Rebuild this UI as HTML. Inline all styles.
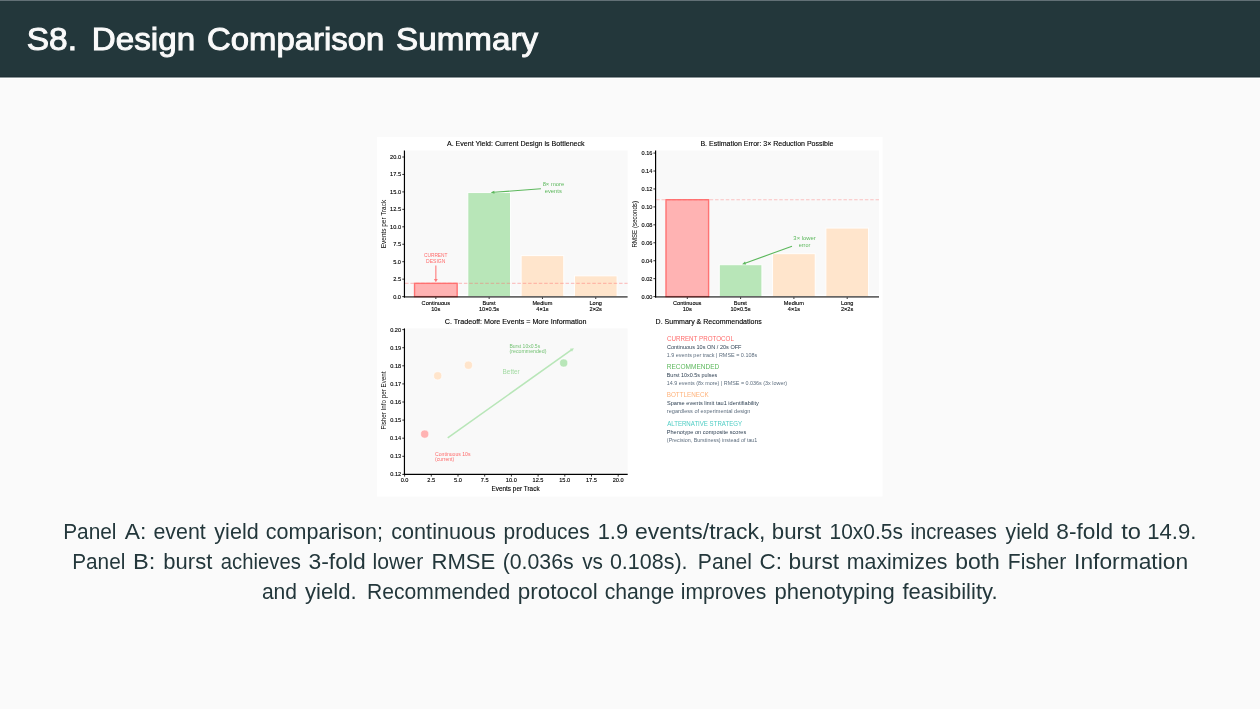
<!DOCTYPE html>
<html><head><meta charset="utf-8"><title>S8. Design Comparison Summary</title>
<style>
html,body{margin:0;padding:0;}
body{width:1260px;height:709px;overflow:hidden;background:#FAFAFA;position:relative;}
.hdr{position:absolute;left:0;top:0;width:1260px;height:77px;background:#23373B;}
.hdr .tl{position:absolute;left:0;top:0;width:1260px;height:1px;background:#627076;}
.hdr .b1{position:absolute;left:0;top:76px;width:1260px;height:1px;background:#1F3036;}
.hl{position:absolute;left:0;top:77px;width:1260px;height:1px;background:#8C9799;}
.hw{position:absolute;left:0;top:78px;width:1260px;height:1px;background:#FFFFFF;}
svg{position:absolute;left:0;top:0;will-change:transform;}
</style></head>
<body>
<div class="hdr"><div class="tl"></div><div class="b1"></div></div>
<div class="hl"></div><div class="hw"></div>
<svg width="1260" height="709" viewBox="0 0 1260 709" font-family='"Liberation Sans", "DejaVu Sans", sans-serif'>
<g id="title">
<text x="26.79" y="50.20" font-size="32.0" fill="#FAFAFA" textLength="50.25" lengthAdjust="spacingAndGlyphs" stroke="#FAFAFA" stroke-width="1.0">S8.</text>
<text x="91.86" y="50.20" font-size="32.0" fill="#FAFAFA" textLength="103.22" lengthAdjust="spacingAndGlyphs" stroke="#FAFAFA" stroke-width="1.0">Design</text>
<text x="207.06" y="50.20" font-size="32.0" fill="#FAFAFA" textLength="177.24" lengthAdjust="spacingAndGlyphs" stroke="#FAFAFA" stroke-width="1.0">Comparison</text>
<text x="396.11" y="50.20" font-size="32.0" fill="#FAFAFA" textLength="141.90" lengthAdjust="spacingAndGlyphs" stroke="#FAFAFA" stroke-width="1.0">Summary</text>
</g>
<g id="figure">
<rect x="377.00" y="137.00" width="505.50" height="359.50" fill="#FFFFFF"/>
<rect x="406.05" y="150.50" width="221.55" height="144.20" fill="#F9F9F9"/>
<rect x="414.55" y="283.34" width="42.60" height="13.26" fill="#FFB3B3" stroke="#FF7373" stroke-width="1.4"/>
<rect x="467.85" y="192.60" width="42.60" height="104.00" fill="#B8E6B8" stroke="#FFFFFF" stroke-width="0.9"/>
<rect x="521.15" y="255.63" width="42.60" height="40.97" fill="#FFE5CC" stroke="#FFFFFF" stroke-width="0.9"/>
<rect x="574.45" y="275.87" width="42.60" height="20.73" fill="#FFE5CC" stroke="#FFFFFF" stroke-width="0.9"/>
<line x1="405.05" y1="283.34" x2="627.60" y2="283.34" stroke="rgba(255,107,107,0.38)" stroke-width="1.1" stroke-dasharray="3.5,1.85"/>
<line x1="404.45" y1="150.50" x2="404.45" y2="297.60" stroke="#000" stroke-width="1.2"/>
<line x1="403.85" y1="296.80" x2="627.60" y2="296.80" stroke="rgba(0,0,0,0.6)" stroke-width="1.7"/>
<line x1="402.25" y1="296.60" x2="404.45" y2="296.60" stroke="#000" stroke-width="0.8"/>
<text x="393.20" y="298.50" font-size="5.4" fill="#000" textLength="7.81" lengthAdjust="spacingAndGlyphs" stroke="#000" stroke-width="0.12">0.0</text>
<line x1="402.25" y1="279.15" x2="404.45" y2="279.15" stroke="#000" stroke-width="0.8"/>
<text x="393.22" y="281.05" font-size="5.4" fill="#000" textLength="7.81" lengthAdjust="spacingAndGlyphs" stroke="#000" stroke-width="0.12">2.5</text>
<line x1="402.25" y1="261.70" x2="404.45" y2="261.70" stroke="#000" stroke-width="0.8"/>
<text x="393.20" y="263.60" font-size="5.4" fill="#000" textLength="7.81" lengthAdjust="spacingAndGlyphs" stroke="#000" stroke-width="0.12">5.0</text>
<line x1="402.25" y1="244.25" x2="404.45" y2="244.25" stroke="#000" stroke-width="0.8"/>
<text x="393.22" y="246.15" font-size="5.4" fill="#000" textLength="7.81" lengthAdjust="spacingAndGlyphs" stroke="#000" stroke-width="0.12">7.5</text>
<line x1="402.25" y1="226.80" x2="404.45" y2="226.80" stroke="#000" stroke-width="0.8"/>
<text x="390.09" y="228.70" font-size="5.4" fill="#000" textLength="10.93" lengthAdjust="spacingAndGlyphs" stroke="#000" stroke-width="0.12">10.0</text>
<line x1="402.25" y1="209.35" x2="404.45" y2="209.35" stroke="#000" stroke-width="0.8"/>
<text x="390.10" y="211.25" font-size="5.4" fill="#000" textLength="10.93" lengthAdjust="spacingAndGlyphs" stroke="#000" stroke-width="0.12">12.5</text>
<line x1="402.25" y1="191.90" x2="404.45" y2="191.90" stroke="#000" stroke-width="0.8"/>
<text x="390.09" y="193.80" font-size="5.4" fill="#000" textLength="10.93" lengthAdjust="spacingAndGlyphs" stroke="#000" stroke-width="0.12">15.0</text>
<line x1="402.25" y1="174.45" x2="404.45" y2="174.45" stroke="#000" stroke-width="0.8"/>
<text x="390.10" y="176.35" font-size="5.4" fill="#000" textLength="10.93" lengthAdjust="spacingAndGlyphs" stroke="#000" stroke-width="0.12">17.5</text>
<line x1="402.25" y1="157.00" x2="404.45" y2="157.00" stroke="#000" stroke-width="0.8"/>
<text x="390.09" y="158.90" font-size="5.4" fill="#000" textLength="10.93" lengthAdjust="spacingAndGlyphs" stroke="#000" stroke-width="0.12">20.0</text>
<line x1="435.85" y1="297.40" x2="435.85" y2="299.00" stroke="#000" stroke-width="0.8"/>
<text x="421.61" y="305.10" font-size="5.5" fill="#000" textLength="28.38" lengthAdjust="spacingAndGlyphs" stroke="#000" stroke-width="0.12">Continuous</text>
<text x="431.21" y="311.30" font-size="5.5" fill="#000" textLength="9.05" lengthAdjust="spacingAndGlyphs" stroke="#000" stroke-width="0.12">10s</text>
<line x1="489.15" y1="297.40" x2="489.15" y2="299.00" stroke="#000" stroke-width="0.8"/>
<text x="482.40" y="305.10" font-size="5.5" fill="#000" textLength="13.09" lengthAdjust="spacingAndGlyphs" stroke="#000" stroke-width="0.12">Burst</text>
<text x="478.97" y="311.30" font-size="5.5" fill="#000" textLength="20.12" lengthAdjust="spacingAndGlyphs" stroke="#000" stroke-width="0.12">10×0.5s</text>
<line x1="542.45" y1="297.40" x2="542.45" y2="299.00" stroke="#000" stroke-width="0.8"/>
<text x="532.43" y="305.10" font-size="5.5" fill="#000" textLength="19.95" lengthAdjust="spacingAndGlyphs" stroke="#000" stroke-width="0.12">Medium</text>
<text x="536.32" y="311.30" font-size="5.5" fill="#000" textLength="12.32" lengthAdjust="spacingAndGlyphs" stroke="#000" stroke-width="0.12">4×1s</text>
<line x1="595.75" y1="297.40" x2="595.75" y2="299.00" stroke="#000" stroke-width="0.8"/>
<text x="589.46" y="305.10" font-size="5.5" fill="#000" textLength="12.48" lengthAdjust="spacingAndGlyphs" stroke="#000" stroke-width="0.12">Long</text>
<text x="589.54" y="311.30" font-size="5.5" fill="#000" textLength="12.32" lengthAdjust="spacingAndGlyphs" stroke="#000" stroke-width="0.12">2×2s</text>
<text x="446.98" y="145.90" font-size="7.2" fill="#000" textLength="137.62" lengthAdjust="spacingAndGlyphs" stroke="#000" stroke-width="0.12">A. Event Yield: Current Design is Bottleneck</text>
<text x="-24.43" y="0" font-size="6.6" fill="#000" textLength="48.34" lengthAdjust="spacingAndGlyphs" transform="translate(385.80 223.80) rotate(-90)">Events per Track</text>
<text x="423.96" y="256.90" font-size="5.3" fill="#FF6B6B" textLength="23.56" lengthAdjust="spacingAndGlyphs">CURRENT</text>
<text x="426.09" y="262.80" font-size="5.3" fill="#FF6B6B" textLength="19.22" lengthAdjust="spacingAndGlyphs">DESIGN</text>
<line x1="435.85" y1="265.50" x2="435.85" y2="279.50" stroke="#FF7B7B" stroke-width="1.1"/>
<polygon points="435.85,282.20 433.95,278.90 437.75,278.90" fill="#FF7B7B"/>
<text x="542.65" y="186.10" font-size="5.6" fill="#5CB85C" textLength="21.50" lengthAdjust="spacingAndGlyphs">8× more</text>
<text x="544.75" y="192.80" font-size="5.6" fill="#5CB85C" textLength="17.04" lengthAdjust="spacingAndGlyphs">events</text>
<line x1="540.90" y1="188.80" x2="493.79" y2="192.27" stroke="#5CB85C" stroke-width="1.1"/>
<polygon points="490.70,192.50 494.27,190.63 494.51,193.82" fill="#5CB85C"/>
<rect x="657.20" y="150.50" width="221.80" height="144.20" fill="#F9F9F9"/>
<rect x="666.00" y="199.72" width="42.60" height="96.88" fill="#FFB3B3" stroke="#FF7373" stroke-width="1.4"/>
<rect x="719.30" y="264.76" width="42.60" height="31.84" fill="#B8E6B8" stroke="#FFFFFF" stroke-width="0.9"/>
<rect x="772.60" y="253.72" width="42.60" height="42.88" fill="#FFE5CC" stroke="#FFFFFF" stroke-width="0.9"/>
<rect x="825.90" y="228.07" width="42.60" height="68.53" fill="#FFE5CC" stroke="#FFFFFF" stroke-width="0.9"/>
<line x1="656.20" y1="199.72" x2="879.00" y2="199.72" stroke="rgba(255,107,107,0.38)" stroke-width="1.1" stroke-dasharray="3.5,1.85"/>
<line x1="655.60" y1="150.50" x2="655.60" y2="297.60" stroke="#000" stroke-width="1.2"/>
<line x1="655.00" y1="296.80" x2="879.00" y2="296.80" stroke="rgba(0,0,0,0.6)" stroke-width="1.7"/>
<line x1="653.40" y1="296.60" x2="655.60" y2="296.60" stroke="#000" stroke-width="0.8"/>
<text x="641.49" y="298.50" font-size="5.4" fill="#000" textLength="10.93" lengthAdjust="spacingAndGlyphs" stroke="#000" stroke-width="0.12">0.00</text>
<line x1="653.40" y1="278.66" x2="655.60" y2="278.66" stroke="#000" stroke-width="0.8"/>
<text x="641.54" y="280.56" font-size="5.4" fill="#000" textLength="10.93" lengthAdjust="spacingAndGlyphs" stroke="#000" stroke-width="0.12">0.02</text>
<line x1="653.40" y1="260.72" x2="655.60" y2="260.72" stroke="#000" stroke-width="0.8"/>
<text x="641.43" y="262.62" font-size="5.4" fill="#000" textLength="10.93" lengthAdjust="spacingAndGlyphs" stroke="#000" stroke-width="0.12">0.04</text>
<line x1="653.40" y1="242.78" x2="655.60" y2="242.78" stroke="#000" stroke-width="0.8"/>
<text x="641.52" y="244.68" font-size="5.4" fill="#000" textLength="10.93" lengthAdjust="spacingAndGlyphs" stroke="#000" stroke-width="0.12">0.06</text>
<line x1="653.40" y1="224.84" x2="655.60" y2="224.84" stroke="#000" stroke-width="0.8"/>
<text x="641.52" y="226.74" font-size="5.4" fill="#000" textLength="10.93" lengthAdjust="spacingAndGlyphs" stroke="#000" stroke-width="0.12">0.08</text>
<line x1="653.40" y1="206.90" x2="655.60" y2="206.90" stroke="#000" stroke-width="0.8"/>
<text x="641.49" y="208.80" font-size="5.4" fill="#000" textLength="10.93" lengthAdjust="spacingAndGlyphs" stroke="#000" stroke-width="0.12">0.10</text>
<line x1="653.40" y1="188.96" x2="655.60" y2="188.96" stroke="#000" stroke-width="0.8"/>
<text x="641.54" y="190.86" font-size="5.4" fill="#000" textLength="10.93" lengthAdjust="spacingAndGlyphs" stroke="#000" stroke-width="0.12">0.12</text>
<line x1="653.40" y1="171.02" x2="655.60" y2="171.02" stroke="#000" stroke-width="0.8"/>
<text x="641.43" y="172.92" font-size="5.4" fill="#000" textLength="10.93" lengthAdjust="spacingAndGlyphs" stroke="#000" stroke-width="0.12">0.14</text>
<line x1="653.40" y1="153.08" x2="655.60" y2="153.08" stroke="#000" stroke-width="0.8"/>
<text x="641.52" y="154.98" font-size="5.4" fill="#000" textLength="10.93" lengthAdjust="spacingAndGlyphs" stroke="#000" stroke-width="0.12">0.16</text>
<line x1="687.30" y1="297.40" x2="687.30" y2="299.00" stroke="#000" stroke-width="0.8"/>
<text x="673.06" y="305.10" font-size="5.5" fill="#000" textLength="28.38" lengthAdjust="spacingAndGlyphs" stroke="#000" stroke-width="0.12">Continuous</text>
<text x="682.66" y="311.30" font-size="5.5" fill="#000" textLength="9.05" lengthAdjust="spacingAndGlyphs" stroke="#000" stroke-width="0.12">10s</text>
<line x1="740.60" y1="297.40" x2="740.60" y2="299.00" stroke="#000" stroke-width="0.8"/>
<text x="733.85" y="305.10" font-size="5.5" fill="#000" textLength="13.09" lengthAdjust="spacingAndGlyphs" stroke="#000" stroke-width="0.12">Burst</text>
<text x="730.42" y="311.30" font-size="5.5" fill="#000" textLength="20.12" lengthAdjust="spacingAndGlyphs" stroke="#000" stroke-width="0.12">10×0.5s</text>
<line x1="793.90" y1="297.40" x2="793.90" y2="299.00" stroke="#000" stroke-width="0.8"/>
<text x="783.88" y="305.10" font-size="5.5" fill="#000" textLength="19.95" lengthAdjust="spacingAndGlyphs" stroke="#000" stroke-width="0.12">Medium</text>
<text x="787.77" y="311.30" font-size="5.5" fill="#000" textLength="12.32" lengthAdjust="spacingAndGlyphs" stroke="#000" stroke-width="0.12">4×1s</text>
<line x1="847.20" y1="297.40" x2="847.20" y2="299.00" stroke="#000" stroke-width="0.8"/>
<text x="840.91" y="305.10" font-size="5.5" fill="#000" textLength="12.48" lengthAdjust="spacingAndGlyphs" stroke="#000" stroke-width="0.12">Long</text>
<text x="840.99" y="311.30" font-size="5.5" fill="#000" textLength="12.32" lengthAdjust="spacingAndGlyphs" stroke="#000" stroke-width="0.12">2×2s</text>
<text x="700.42" y="145.90" font-size="7.2" fill="#000" textLength="133.09" lengthAdjust="spacingAndGlyphs" stroke="#000" stroke-width="0.12">B. Estimation Error: 3× Reduction Possible</text>
<text x="-23.36" y="0" font-size="6.6" fill="#000" textLength="46.58" lengthAdjust="spacingAndGlyphs" transform="translate(637.00 224.25) rotate(-90)">RMSE (seconds)</text>
<text x="793.38" y="240.20" font-size="5.6" fill="#5CB85C" textLength="22.31" lengthAdjust="spacingAndGlyphs">3× lower</text>
<text x="798.77" y="246.70" font-size="5.6" fill="#5CB85C" textLength="11.52" lengthAdjust="spacingAndGlyphs">error</text>
<line x1="792.00" y1="246.20" x2="745.01" y2="263.24" stroke="#5CB85C" stroke-width="1.1"/>
<polygon points="742.10,264.30 745.03,261.53 746.12,264.54" fill="#5CB85C"/>
<rect x="406.05" y="328.40" width="221.65" height="144.40" fill="#F9F9F9"/>
<line x1="447.70" y1="437.90" x2="571.45" y2="349.94" stroke="#B8E6B8" stroke-width="1.6"/>
<polygon points="573.90,348.20 572.01,351.75 569.92,348.82" fill="#B8E6B8"/>
<circle cx="424.70" cy="434.10" r="4.1" fill="#FFB3B3" stroke="#fff" stroke-width="0.6"/>
<circle cx="437.70" cy="375.80" r="4.1" fill="#FFE5CC" stroke="#fff" stroke-width="0.6"/>
<circle cx="468.40" cy="365.20" r="4.1" fill="#FFE5CC" stroke="#fff" stroke-width="0.6"/>
<circle cx="563.70" cy="363.00" r="4.1" fill="#B8E6B8" stroke="#fff" stroke-width="0.6"/>
<line x1="404.45" y1="328.40" x2="404.45" y2="475.00" stroke="#000" stroke-width="1.2"/>
<line x1="403.85" y1="474.40" x2="627.70" y2="474.40" stroke="#000" stroke-width="1.2"/>
<line x1="402.25" y1="474.40" x2="404.45" y2="474.40" stroke="#000" stroke-width="0.8"/>
<text x="390.24" y="476.30" font-size="5.4" fill="#000" textLength="10.93" lengthAdjust="spacingAndGlyphs" stroke="#000" stroke-width="0.12">0.12</text>
<line x1="402.25" y1="456.30" x2="404.45" y2="456.30" stroke="#000" stroke-width="0.8"/>
<text x="390.22" y="458.20" font-size="5.4" fill="#000" textLength="10.93" lengthAdjust="spacingAndGlyphs" stroke="#000" stroke-width="0.12">0.13</text>
<line x1="402.25" y1="438.20" x2="404.45" y2="438.20" stroke="#000" stroke-width="0.8"/>
<text x="390.13" y="440.10" font-size="5.4" fill="#000" textLength="10.93" lengthAdjust="spacingAndGlyphs" stroke="#000" stroke-width="0.12">0.14</text>
<line x1="402.25" y1="420.10" x2="404.45" y2="420.10" stroke="#000" stroke-width="0.8"/>
<text x="390.20" y="422.00" font-size="5.4" fill="#000" textLength="10.93" lengthAdjust="spacingAndGlyphs" stroke="#000" stroke-width="0.12">0.15</text>
<line x1="402.25" y1="402.00" x2="404.45" y2="402.00" stroke="#000" stroke-width="0.8"/>
<text x="390.22" y="403.90" font-size="5.4" fill="#000" textLength="10.93" lengthAdjust="spacingAndGlyphs" stroke="#000" stroke-width="0.12">0.16</text>
<line x1="402.25" y1="383.90" x2="404.45" y2="383.90" stroke="#000" stroke-width="0.8"/>
<text x="390.24" y="385.80" font-size="5.4" fill="#000" textLength="10.93" lengthAdjust="spacingAndGlyphs" stroke="#000" stroke-width="0.12">0.17</text>
<line x1="402.25" y1="365.80" x2="404.45" y2="365.80" stroke="#000" stroke-width="0.8"/>
<text x="390.22" y="367.70" font-size="5.4" fill="#000" textLength="10.93" lengthAdjust="spacingAndGlyphs" stroke="#000" stroke-width="0.12">0.18</text>
<line x1="402.25" y1="347.70" x2="404.45" y2="347.70" stroke="#000" stroke-width="0.8"/>
<text x="390.23" y="349.60" font-size="5.4" fill="#000" textLength="10.93" lengthAdjust="spacingAndGlyphs" stroke="#000" stroke-width="0.12">0.19</text>
<line x1="402.25" y1="329.60" x2="404.45" y2="329.60" stroke="#000" stroke-width="0.8"/>
<text x="390.19" y="331.50" font-size="5.4" fill="#000" textLength="10.93" lengthAdjust="spacingAndGlyphs" stroke="#000" stroke-width="0.12">0.20</text>
<line x1="404.60" y1="474.40" x2="404.60" y2="476.60" stroke="#000" stroke-width="0.8"/>
<text x="400.70" y="481.90" font-size="5.4" fill="#000" textLength="7.81" lengthAdjust="spacingAndGlyphs" stroke="#000" stroke-width="0.12">0.0</text>
<line x1="431.30" y1="474.40" x2="431.30" y2="476.60" stroke="#000" stroke-width="0.8"/>
<text x="427.37" y="481.90" font-size="5.4" fill="#000" textLength="7.81" lengthAdjust="spacingAndGlyphs" stroke="#000" stroke-width="0.12">2.5</text>
<line x1="458.00" y1="474.40" x2="458.00" y2="476.60" stroke="#000" stroke-width="0.8"/>
<text x="454.09" y="481.90" font-size="5.4" fill="#000" textLength="7.81" lengthAdjust="spacingAndGlyphs" stroke="#000" stroke-width="0.12">5.0</text>
<line x1="484.70" y1="474.40" x2="484.70" y2="476.60" stroke="#000" stroke-width="0.8"/>
<text x="480.77" y="481.90" font-size="5.4" fill="#000" textLength="7.81" lengthAdjust="spacingAndGlyphs" stroke="#000" stroke-width="0.12">7.5</text>
<line x1="511.40" y1="474.40" x2="511.40" y2="476.60" stroke="#000" stroke-width="0.8"/>
<text x="505.83" y="481.90" font-size="5.4" fill="#000" textLength="10.93" lengthAdjust="spacingAndGlyphs" stroke="#000" stroke-width="0.12">10.0</text>
<line x1="538.10" y1="474.40" x2="538.10" y2="476.60" stroke="#000" stroke-width="0.8"/>
<text x="532.54" y="481.90" font-size="5.4" fill="#000" textLength="10.93" lengthAdjust="spacingAndGlyphs" stroke="#000" stroke-width="0.12">12.5</text>
<line x1="564.80" y1="474.40" x2="564.80" y2="476.60" stroke="#000" stroke-width="0.8"/>
<text x="559.23" y="481.90" font-size="5.4" fill="#000" textLength="10.93" lengthAdjust="spacingAndGlyphs" stroke="#000" stroke-width="0.12">15.0</text>
<line x1="591.50" y1="474.40" x2="591.50" y2="476.60" stroke="#000" stroke-width="0.8"/>
<text x="585.94" y="481.90" font-size="5.4" fill="#000" textLength="10.93" lengthAdjust="spacingAndGlyphs" stroke="#000" stroke-width="0.12">17.5</text>
<line x1="618.20" y1="474.40" x2="618.20" y2="476.60" stroke="#000" stroke-width="0.8"/>
<text x="612.70" y="481.90" font-size="5.4" fill="#000" textLength="10.93" lengthAdjust="spacingAndGlyphs" stroke="#000" stroke-width="0.12">20.0</text>
<text x="444.74" y="324.00" font-size="7.2" fill="#000" textLength="141.82" lengthAdjust="spacingAndGlyphs" stroke="#000" stroke-width="0.12">C. Tradeoff: More Events = More Information</text>
<text x="491.47" y="490.70" font-size="6.6" fill="#000" textLength="48.13" lengthAdjust="spacingAndGlyphs" stroke="#000" stroke-width="0.12">Events per Track</text>
<text x="-29.22" y="0" font-size="6.6" fill="#000" textLength="57.96" lengthAdjust="spacingAndGlyphs" transform="translate(385.80 400.30) rotate(-90)">Fisher Info per Event</text>
<text x="509.49" y="348.00" font-size="5.7" fill="#74C274" textLength="30.69" lengthAdjust="spacingAndGlyphs">Burst 10x0.5s</text>
<text x="509.57" y="353.20" font-size="5.7" fill="#74C274" textLength="36.84" lengthAdjust="spacingAndGlyphs">(recommended)</text>
<text x="502.57" y="373.90" font-size="6.9" fill="#A3DBA3" textLength="17.13" lengthAdjust="spacingAndGlyphs">Better</text>
<text x="435.05" y="456.00" font-size="5.6" fill="#FF6B6B" textLength="35.43" lengthAdjust="spacingAndGlyphs">Continuous 10s</text>
<text x="434.98" y="461.30" font-size="5.6" fill="#FF6B6B" textLength="19.23" lengthAdjust="spacingAndGlyphs">(current)</text>
<text x="655.62" y="324.00" font-size="7.2" fill="#000" textLength="106.22" lengthAdjust="spacingAndGlyphs" stroke="#000" stroke-width="0.12">D. Summary &amp; Recommendations</text>
<text x="666.89" y="340.90" font-size="6.9" fill="#FF6B6B" textLength="67.01" lengthAdjust="spacingAndGlyphs">CURRENT PROTOCOL</text>
<text x="666.92" y="349.10" font-size="5.5" fill="#2C3E50" textLength="74.59" lengthAdjust="spacingAndGlyphs">Continuous 10s ON / 20s OFF</text>
<text x="666.79" y="356.60" font-size="5.5" fill="#5D6D7E" textLength="90.39" lengthAdjust="spacingAndGlyphs">1.9 events per track | RMSE = 0.108s</text>
<text x="666.66" y="369.10" font-size="6.9" fill="#5CB85C" textLength="52.65" lengthAdjust="spacingAndGlyphs">RECOMMENDED</text>
<text x="666.75" y="377.00" font-size="5.5" fill="#2C3E50" textLength="50.44" lengthAdjust="spacingAndGlyphs">Burst 10x0.5s pulses</text>
<text x="666.79" y="384.80" font-size="5.5" fill="#5D6D7E" textLength="120.24" lengthAdjust="spacingAndGlyphs">14.9 events (8x more) | RMSE = 0.036s (3x lower)</text>
<text x="666.68" y="397.00" font-size="6.9" fill="#FFB27A" textLength="42.10" lengthAdjust="spacingAndGlyphs">BOTTLENECK</text>
<text x="666.95" y="405.00" font-size="5.5" fill="#2C3E50" textLength="91.97" lengthAdjust="spacingAndGlyphs">Sparse events limit tau1 identifiability</text>
<text x="666.84" y="412.60" font-size="5.5" fill="#5D6D7E" textLength="83.62" lengthAdjust="spacingAndGlyphs">regardless of experimental design</text>
<text x="667.18" y="425.80" font-size="6.9" fill="#4ECDC4" textLength="74.85" lengthAdjust="spacingAndGlyphs">ALTERNATIVE STRATEGY</text>
<text x="666.74" y="433.90" font-size="5.5" fill="#2C3E50" textLength="79.46" lengthAdjust="spacingAndGlyphs">Phenotype on composite scores</text>
<text x="666.86" y="441.50" font-size="5.5" fill="#5D6D7E" textLength="90.50" lengthAdjust="spacingAndGlyphs">(Precision, Burstiness) instead of tau1</text>
</g>
<g id="caption">
<text x="63.18" y="539.00" font-size="22.0" fill="#23373B" textLength="53.33" lengthAdjust="spacingAndGlyphs">Panel</text>
<text x="124.84" y="539.00" font-size="22.0" fill="#23373B" textLength="21.61" lengthAdjust="spacingAndGlyphs">A:</text>
<text x="153.49" y="539.00" font-size="22.0" fill="#23373B" textLength="52.30" lengthAdjust="spacingAndGlyphs">event</text>
<text x="214.35" y="539.00" font-size="22.0" fill="#23373B" textLength="44.34" lengthAdjust="spacingAndGlyphs">yield</text>
<text x="265.79" y="539.00" font-size="22.0" fill="#23373B" textLength="117.24" lengthAdjust="spacingAndGlyphs">comparison;</text>
<text x="391.28" y="539.00" font-size="22.0" fill="#23373B" textLength="104.57" lengthAdjust="spacingAndGlyphs">continuous</text>
<text x="503.54" y="539.00" font-size="22.0" fill="#23373B" textLength="86.07" lengthAdjust="spacingAndGlyphs">produces</text>
<text x="597.66" y="539.00" font-size="22.0" fill="#23373B" textLength="30.43" lengthAdjust="spacingAndGlyphs">1.9</text>
<text x="635.02" y="539.00" font-size="22.0" fill="#23373B" textLength="130.33" lengthAdjust="spacingAndGlyphs">events/track,</text>
<text x="771.85" y="539.00" font-size="22.0" fill="#23373B" textLength="49.43" lengthAdjust="spacingAndGlyphs">burst</text>
<text x="829.53" y="539.00" font-size="22.0" fill="#23373B" textLength="73.41" lengthAdjust="spacingAndGlyphs">10x0.5s</text>
<text x="910.44" y="539.00" font-size="22.0" fill="#23373B" textLength="86.47" lengthAdjust="spacingAndGlyphs">increases</text>
<text x="1005.55" y="539.00" font-size="22.0" fill="#23373B" textLength="43.61" lengthAdjust="spacingAndGlyphs">yield</text>
<text x="1056.34" y="539.00" font-size="22.0" fill="#23373B" textLength="56.72" lengthAdjust="spacingAndGlyphs">8-fold</text>
<text x="1121.25" y="539.00" font-size="22.0" fill="#23373B" textLength="19.74" lengthAdjust="spacingAndGlyphs">to</text>
<text x="1147.24" y="539.00" font-size="22.0" fill="#23373B" textLength="49.13" lengthAdjust="spacingAndGlyphs">14.9.</text>
<text x="72.19" y="568.80" font-size="22.0" fill="#23373B" textLength="53.12" lengthAdjust="spacingAndGlyphs">Panel</text>
<text x="133.05" y="568.80" font-size="22.0" fill="#23373B" textLength="22.38" lengthAdjust="spacingAndGlyphs">B:</text>
<text x="163.37" y="568.80" font-size="22.0" fill="#23373B" textLength="48.91" lengthAdjust="spacingAndGlyphs">burst</text>
<text x="220.84" y="568.80" font-size="22.0" fill="#23373B" textLength="79.96" lengthAdjust="spacingAndGlyphs">achieves</text>
<text x="308.44" y="568.80" font-size="22.0" fill="#23373B" textLength="57.43" lengthAdjust="spacingAndGlyphs">3-fold</text>
<text x="372.57" y="568.80" font-size="22.0" fill="#23373B" textLength="50.64" lengthAdjust="spacingAndGlyphs">lower</text>
<text x="431.48" y="568.80" font-size="22.0" fill="#23373B" textLength="63.84" lengthAdjust="spacingAndGlyphs">RMSE</text>
<text x="502.67" y="568.80" font-size="22.0" fill="#23373B" textLength="70.99" lengthAdjust="spacingAndGlyphs">(0.036s</text>
<text x="582.15" y="568.80" font-size="22.0" fill="#23373B" textLength="20.78" lengthAdjust="spacingAndGlyphs">vs</text>
<text x="609.89" y="568.80" font-size="22.0" fill="#23373B" textLength="77.66" lengthAdjust="spacingAndGlyphs">0.108s).</text>
<text x="697.86" y="568.80" font-size="22.0" fill="#23373B" textLength="53.97" lengthAdjust="spacingAndGlyphs">Panel</text>
<text x="759.58" y="568.80" font-size="22.0" fill="#23373B" textLength="22.44" lengthAdjust="spacingAndGlyphs">C:</text>
<text x="788.52" y="568.80" font-size="22.0" fill="#23373B" textLength="50.56" lengthAdjust="spacingAndGlyphs">burst</text>
<text x="846.81" y="568.80" font-size="22.0" fill="#23373B" textLength="100.64" lengthAdjust="spacingAndGlyphs">maximizes</text>
<text x="955.21" y="568.80" font-size="22.0" fill="#23373B" textLength="44.66" lengthAdjust="spacingAndGlyphs">both</text>
<text x="1007.86" y="568.80" font-size="22.0" fill="#23373B" textLength="58.47" lengthAdjust="spacingAndGlyphs">Fisher</text>
<text x="1074.09" y="568.80" font-size="22.0" fill="#23373B" textLength="114.04" lengthAdjust="spacingAndGlyphs">Information</text>
<text x="261.91" y="599.00" font-size="22.0" fill="#23373B" textLength="35.13" lengthAdjust="spacingAndGlyphs">and</text>
<text x="304.94" y="599.00" font-size="22.0" fill="#23373B" textLength="51.64" lengthAdjust="spacingAndGlyphs">yield.</text>
<text x="367.06" y="599.00" font-size="22.0" fill="#23373B" textLength="143.09" lengthAdjust="spacingAndGlyphs">Recommended</text>
<text x="517.84" y="599.00" font-size="22.0" fill="#23373B" textLength="79.88" lengthAdjust="spacingAndGlyphs">protocol</text>
<text x="604.70" y="599.00" font-size="22.0" fill="#23373B" textLength="69.52" lengthAdjust="spacingAndGlyphs">change</text>
<text x="680.78" y="599.00" font-size="22.0" fill="#23373B" textLength="85.54" lengthAdjust="spacingAndGlyphs">improves</text>
<text x="774.57" y="599.00" font-size="22.0" fill="#23373B" textLength="120.15" lengthAdjust="spacingAndGlyphs">phenotyping</text>
<text x="902.42" y="599.00" font-size="22.0" fill="#23373B" textLength="95.14" lengthAdjust="spacingAndGlyphs">feasibility.</text>
</g>
</svg>
</body></html>
